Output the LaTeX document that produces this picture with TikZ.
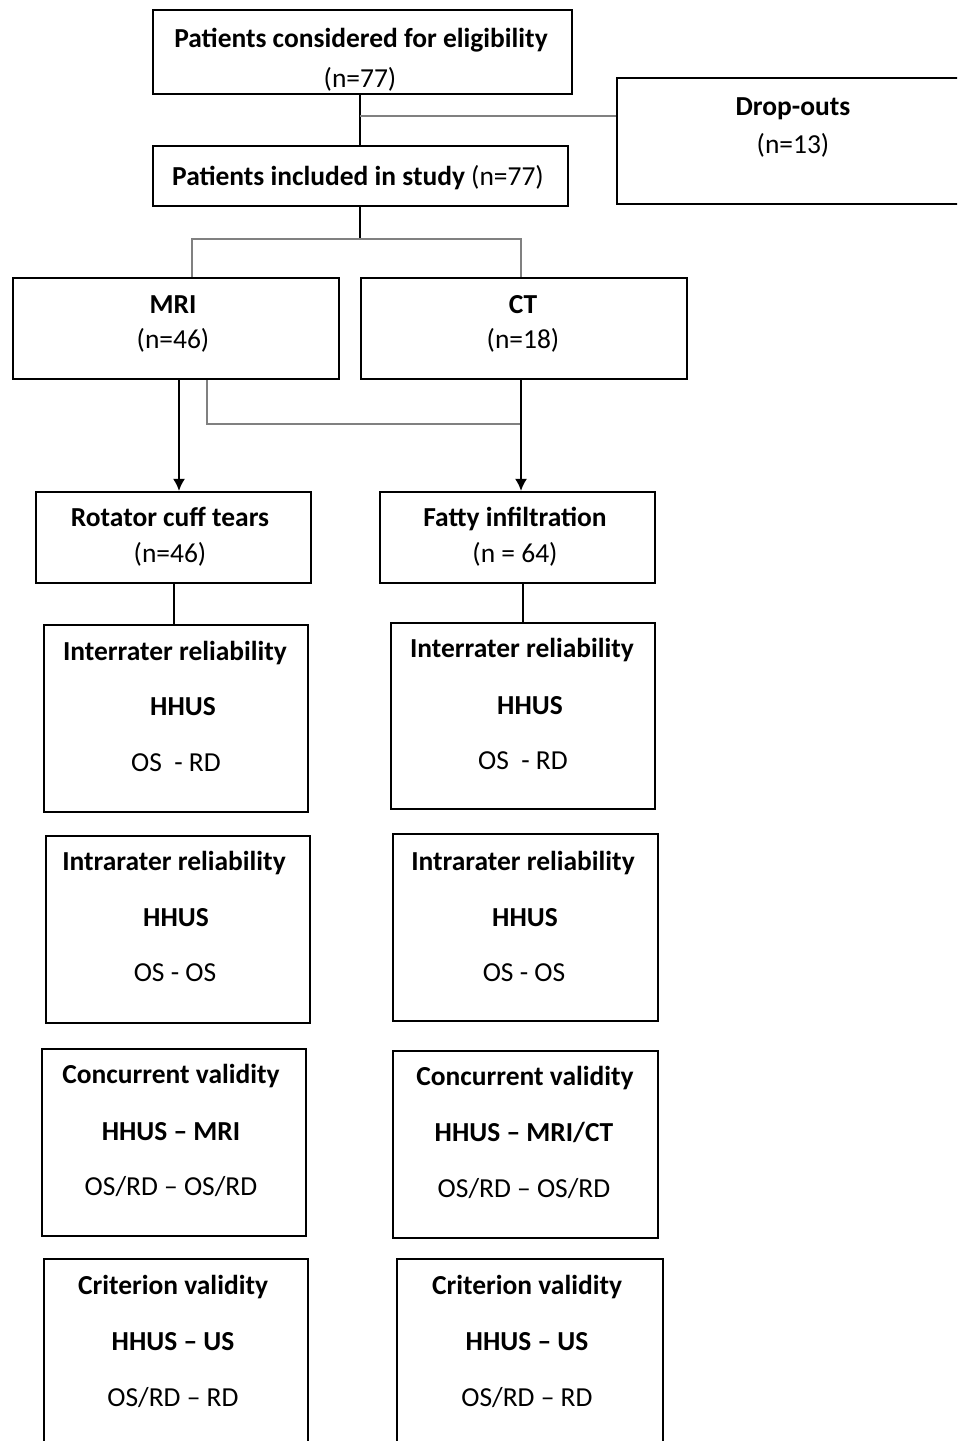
\documentclass[tikz,border=0pt]{standalone}
\usepackage{fontspec}
\setmainfont{Carlito}
\usetikzlibrary{arrows.meta,fit}
\definecolor{branchgray}{gray}{0.5}

\begin{document}
\begin{tikzpicture}[x=0.75pt, y=-0.75pt,
    box/.style={draw=black, line width=1.6pt, inner sep=0pt},
    title/.style={font=\fontsize{20.6}{24}\selectfont\bfseries, inner sep=0pt, text height=13pt, text depth=0pt},
    sub/.style={font=\fontsize{20.6}{24}\selectfont, inner sep=0pt, text height=13pt, text depth=0pt},
    link/.style={black, line width=1.5pt},
    branch/.style={branchgray, line width=1.5pt},
    >={Latex[length=9pt,width=9pt]}]
            \useasboundingbox (0,0) rectangle (957,1441);
            \clip (0,0) rectangle (957,1441);

            \node[box, fit={(153,10) (572,94)}] (consider) {};
            \node[box, fit={(153,146) (568,206)}] (included) {};
            \node[box, fit={(617,78) (980,204)}] (dropouts) {};
            \node[box, fit={(13,278) (339,379)}] (mri) {};
            \node[box, fit={(361,278) (687,379)}] (ct) {};
            \node[box, fit={(36,492) (311,583)}] (tears) {};
            \node[box, fit={(380,492) (655,583)}] (fatty) {};
            \node[box, fit={(44,625) (308,812)}] (interL) {};
            \node[box, fit={(391,623) (655,809)}] (interR) {};
            \node[box, fit={(46,836) (310,1023)}] (intraL) {};
            \node[box, fit={(393,834) (658,1021)}] (intraR) {};
            \node[box, fit={(42,1049) (306,1236)}] (concL) {};
            \node[box, fit={(393,1051) (658,1238)}] (concR) {};
            \node[box, fit={(44,1259) (308,1480)}] (critL) {};
            \node[box, fit={(397,1259) (663,1480)}] (critR) {};

            \node[title] (considerHead) at (361,39) {Patients considered for eligibility};
            \node[sub] (considerCount) at (360,79) {(n=77)};
            \node[title] (includedHead) at (358,177) {Patients included in study \normalfont(n=77)};
            \node[title] (dropoutsHead) at (793,107) {Drop-outs};
            \node[sub] (dropoutsCount) at (793,145) {(n=13)};
            \node[title] (mriHead) at (173,305) {MRI};
            \node[sub] (mriCount) at (173,340) {(n=46)};
            \node[title] (ctHead) at (523,305) {CT};
            \node[sub] (ctCount) at (523,340) {(n=18)};
            \node[title] (tearsHead) at (170,518) {Rotator cuff tears};
            \node[sub] (tearsCount) at (170,554) {(n=46)};
            \node[title] (fattyHead) at (515,518) {Fatty infiltration};
            \node[sub] (fattyCount) at (515,554) {(n = 64)};

            \node[title] (interLhead) at (175,652) {Interrater reliability};
            \node[title] (interLhhus) at (183,707) {HHUS};
            \node[sub] (interLpair) at (176,763) {OS~ - RD};
            \node[title] (interRhead) at (522,649) {Interrater reliability};
            \node[title] (interRhhus) at (530,706) {HHUS};
            \node[sub] (interRpair) at (523,761) {OS~ - RD};

            \node[title] (intraLhead) at (174,862) {Intrarater reliability};
            \node[title] (intraLhhus) at (176,918) {HHUS};
            \node[sub] (intraLpair) at (175,973) {OS - OS};
            \node[title] (intraRhead) at (523,862) {Intrarater reliability};
            \node[title] (intraRhhus) at (525,918) {HHUS};
            \node[sub] (intraRpair) at (524,973) {OS - OS};

            \node[title] (concLhead) at (171,1075) {Concurrent validity};
            \node[title] (concLhhus) at (171,1132) {HHUS -- MRI};
            \node[sub] (concLpair) at (171,1187) {OS/RD -- OS/RD};
            \node[title] (concRhead) at (525,1077) {Concurrent validity};
            \node[title] (concRhhus) at (524,1133) {HHUS -- MRI/CT};
            \node[sub] (concRpair) at (524,1189) {OS/RD -- OS/RD};

            \node[title] (critLhead) at (173,1286) {Criterion validity};
            \node[title] (critLhhus) at (173,1342) {HHUS -- US};
            \node[sub] (critLpair) at (173,1398) {OS/RD -- RD};
            \node[title] (critRhead) at (527,1286) {Criterion validity};
            \node[title] (critRhhus) at (527,1342) {HHUS -- US};
            \node[sub] (critRpair) at (527,1398) {OS/RD -- RD};

            \coordinate (split) at (360,116);
            \coordinate (fork) at (360,239);
            \coordinate (forkL) at (192,239);
            \coordinate (forkR) at (521,239);
            \coordinate (colL) at (179,0);
            \coordinate (colR) at (521,0);
            \coordinate (elbow) at (207,424);

            \draw[link] (split |- consider.south) -- (split |- included.north);
            \draw[branch] (split) -- (split -| dropouts.west);
            \draw[link] (fork |- included.south) -- (fork);
            \draw[branch] (forkL |- mri.north) -- (forkL) -- (forkR) -- (forkR |- ct.north);
            \draw[link, ->] (colL |- mri.south) -- (colL |- tears.north);
            \draw[branch] (elbow |- mri.south) -- (elbow) -- (elbow -| colR);
            \draw[link, ->] (colR |- ct.south) -- (colR |- fatty.north);
            \draw[link] (tears.south) -- (tears.south |- interL.north);
            \draw[link] (interR.north |- fatty.south) -- (interR.north);
\end{tikzpicture}
\end{document}
